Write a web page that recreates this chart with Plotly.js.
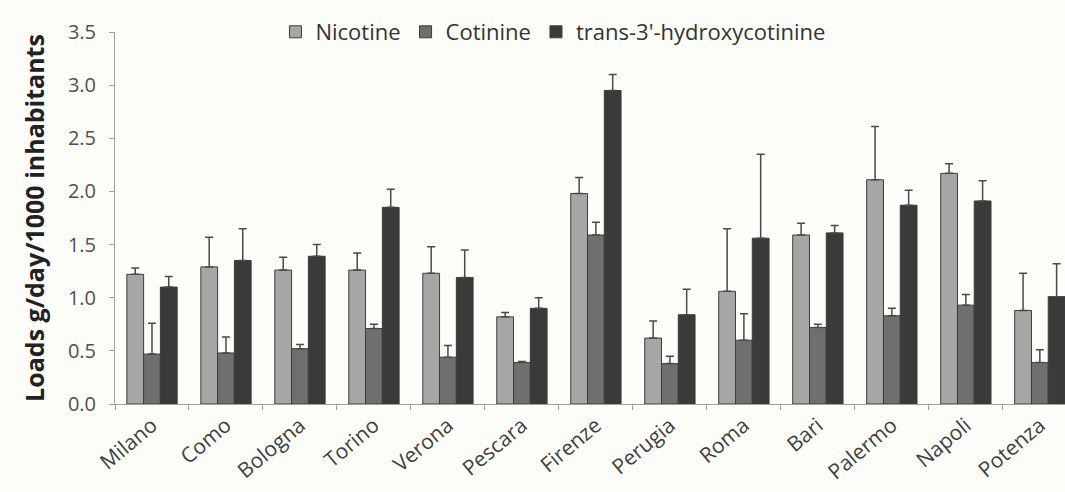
<!DOCTYPE html>
<html>
<head>
<meta charset="utf-8">
<script src="https://cdn.plot.ly/plotly-3.0.1.min.js"></script>
<style>html,body{margin:0;padding:0;background:#fdfdfa;}#chart{width:1065px;height:492px;}</style>
</head>
<body>
<div id="chart"></div>
<script>
const cities = ["Milano","Como","Bologna","Torino","Verona","Pescara","Firenze","Perugia","Roma","Bari","Palermo","Napoli","Potenza"];
const nicotine = [1.22,1.29,1.26,1.26,1.23,0.82,1.98,0.62,1.06,1.59,2.11,2.17,0.88];
const nicotineErr = [0.06,0.28,0.12,0.16,0.25,0.04,0.15,0.16,0.59,0.11,0.50,0.09,0.35];
const cotinine = [0.47,0.48,0.52,0.71,0.44,0.39,1.59,0.38,0.60,0.72,0.83,0.93,0.39];
const cotinineErr = [0.29,0.15,0.04,0.04,0.11,0.01,0.12,0.07,0.25,0.03,0.07,0.10,0.12];
const hydroxy = [1.10,1.35,1.39,1.85,1.19,0.90,2.95,0.84,1.56,1.61,1.87,1.91,1.01];
const hydroxyErr = [0.10,0.30,0.11,0.17,0.26,0.10,0.15,0.24,0.79,0.07,0.14,0.19,0.31];
const seriesNames = ["Nicotine","Cotinine","trans-3'-hydroxycotinine"];
const yTicks = [0,0.5,1,1.5,2,2.5,3,3.5];

const colors = ["#a6a6a6","#6f6f6f","#3a3a3a"];
const vals = [nicotine, cotinine, hydroxy];
const errs = [nicotineErr, cotinineErr, hydroxyErr];
const zeros = cities.map(()=>0);
const traces = seriesNames.map((n,i)=>({
  type:"bar", name:n, x:cities, y:vals[i],
  marker:{color:colors[i], line:{color:"#3c3c3c", width:1}},
  error_y:{type:"data", array:errs[i], arrayminus:zeros, symmetric:false, visible:true, color:"#4a4a4a", thickness:1.5, width:4}
}));

const layout = {
  width:1065, height:492,
  paper_bgcolor:"#fdfdfa", plot_bgcolor:"#fdfdfa",
  margin:{l:115, r:0, t:32, b:88},
  barmode:"group", bargap:0.32, bargroupgap:0,
  font:{family:"'Open Sans', sans-serif", color:"#404040"},
  showlegend:true,
  legend:{orientation:"h", x:0.461, xanchor:"center", y:1.0, yanchor:"middle", font:{size:22, color:"#333"}, bgcolor:"rgba(0,0,0,0)", traceorder:"normal", itemwidth:30},
  xaxis:{type:"category", range:[-0.5,12.34], showline:true, linecolor:"#a0a0a0", linewidth:1,
    ticks:"outside", tickson:"boundaries", ticklen:5, tickcolor:"#a0a0a0", tickangle:-40,
    tickfont:{size:21, color:"#404040"}, showgrid:false, zeroline:false},
  yaxis:{range:[0,3.5], tickvals:yTicks, tickformat:".1f", showline:true, linecolor:"#a0a0a0", linewidth:1,
    ticks:"outside", ticklen:5, tickcolor:"#a0a0a0", showgrid:false, zeroline:false, ticklabelstandoff:9,
    tickfont:{size:20, color:"#505050"},
    title:{text:"<b>Loads g/day/1000 inhabitants</b>", font:{size:25, color:"#222"}, standoff:16}}
};
Plotly.newPlot("chart", traces, layout, {displayModeBar:false, staticPlot:true});
</script>
</body>
</html>
